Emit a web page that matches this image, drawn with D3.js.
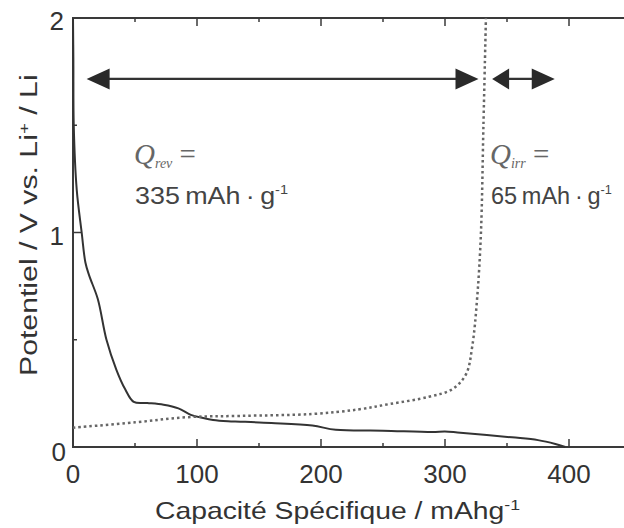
<!DOCTYPE html>
<html>
<head>
<meta charset="utf-8">
<script src="https://cdn.jsdelivr.net/npm/d3@7"></script>
<style>
  html, body { margin: 0; padding: 0; background: #fff; }
  svg { display: block; }
  text { font-family: "Liberation Sans", Arial, sans-serif; fill: #333; }
</style>
</head>
<body>
<script>
// ---- data ----
const dischargeCap = [0, 0.3, 0.6, 3, 7, 10, 13, 20, 27, 35, 42, 49, 60, 73, 85, 95, 105, 113, 125, 135, 160, 193, 212, 250, 290, 300, 310, 354, 375, 389, 397];
const dischargeV   = [2.0, 1.8, 1.5, 1.2, 1.0, 0.86, 0.80, 0.69, 0.50, 0.36, 0.27, 0.21, 0.205, 0.197, 0.18, 0.15, 0.135, 0.126, 0.12, 0.118, 0.112, 0.10, 0.08, 0.076, 0.07, 0.072, 0.068, 0.045, 0.032, 0.014, 0.0];
const chargeCap = [0, 50, 92, 135, 193, 230, 255, 287, 306, 317, 322, 326, 329, 331, 333];
const chargeV   = [0.09, 0.115, 0.139, 0.145, 0.154, 0.175, 0.20, 0.234, 0.27, 0.34, 0.47, 0.70, 1.0, 1.5, 2.0];
const xTicks = [0, 100, 200, 300, 400];
const xMinorTicks = [50, 150, 250, 350, 450];
const yTicks = [0, 1, 2];
const yMinorTicks = [0.5, 1.5];
const arrowFrom = [11, 338];
const arrowTo = [327, 388.5];
const arrowV = 1.716;
const qLabels = ["rev", "irr"];
const qValues = ["335", "65"];

// ---- layout ----
const W = 624, H = 528;
const svg = d3.select("body").append("svg").attr("width", W).attr("height", H);
const x = d3.scaleLinear().domain([0, 450]).range([73, 631]);
const y = d3.scaleLinear().domain([0, 2]).range([447, 18]);
const axisColor = "#3a3a3a";

// frame
svg.append("rect").attr("x", x(0)).attr("y", y(2)).attr("width", x(450) - x(0)).attr("height", y(0) - y(2))
  .attr("fill", "none").attr("stroke", axisColor).attr("stroke-width", 2);

// ticks
const tickG = svg.append("g").attr("stroke", axisColor).attr("stroke-width", 1.5);
xTicks.forEach(t => {
  tickG.append("line").attr("x1", x(t)).attr("x2", x(t)).attr("y1", y(0)).attr("y2", y(0) - 8);
  tickG.append("line").attr("x1", x(t)).attr("x2", x(t)).attr("y1", y(2)).attr("y2", y(2) + 8);
});
xMinorTicks.forEach(t => {
  tickG.append("line").attr("x1", x(t)).attr("x2", x(t)).attr("y1", y(0)).attr("y2", y(0) - 4);
  tickG.append("line").attr("x1", x(t)).attr("x2", x(t)).attr("y1", y(2)).attr("y2", y(2) + 4);
});
yTicks.forEach(t => {
  tickG.append("line").attr("x1", x(0)).attr("x2", x(0) + 8).attr("y1", y(t)).attr("y2", y(t));
});
yMinorTicks.forEach(t => {
  tickG.append("line").attr("x1", x(0)).attr("x2", x(0) + 4).attr("y1", y(t)).attr("y2", y(t));
});

// tick labels
svg.append("g").selectAll("text").data(xTicks).join("text")
  .attr("x", d => x(d)).attr("y", 483).attr("text-anchor", "middle")
  .attr("font-size", 26).text(d => d);
svg.append("g").selectAll("text").data(yTicks).join("text")
  .attr("x", d => d === 0 ? 66 : 64).attr("y", d => y(d) + (d === 0 ? 14 : 12)).attr("text-anchor", "end")
  .attr("font-size", 26).text(d => d);

// axis titles
const xt = svg.append("text").attr("transform", "translate(155,519) scale(1.18,1)").attr("font-size", 24);
xt.append("tspan").text("Capacité Spécifique / mAhg");
xt.append("tspan").attr("dy", -9).attr("font-size", 15).text("-1");

const yt = svg.append("text").attr("transform", "translate(37,376) rotate(-90) scale(1.26,1)").attr("font-size", 24);
yt.append("tspan").text("Potentiel / V vs. Li");
yt.append("tspan").attr("dy", -8).attr("font-size", 15).text("+");
yt.append("tspan").attr("dy", 8).text(" / Li");

// curves
const curveLine = d3.line().x(d => x(d[0])).y(d => y(d[1])).curve(d3.curveCatmullRom.alpha(0.5));
svg.append("path").datum(dischargeCap.map((c, i) => [c, dischargeV[i]]))
  .attr("d", curveLine).attr("fill", "none")
  .attr("stroke", "#333").attr("stroke-width", 2);
svg.append("path").datum(chargeCap.map((c, i) => [c, chargeV[i]]))
  .attr("d", curveLine).attr("fill", "none")
  .attr("stroke", "#666").attr("stroke-width", 2.5).attr("stroke-dasharray", "2.5,3");

// arrows
const ag = svg.append("g");
arrowFrom.forEach((f, i) => {
  const x1 = x(f), x2 = x(arrowTo[i]), yy = y(arrowV);
  const hl1 = i === 0 ? 23 : 17, hl2 = 23, hw = 10.5;
  ag.append("line").attr("x1", x1 + 5).attr("x2", x2 - 5).attr("y1", yy).attr("y2", yy)
    .attr("stroke", "#333").attr("stroke-width", 2.4);
  ag.append("path").attr("d", `M${x1},${yy} L${x1 + hl1},${yy - hw} L${x1 + hl1},${yy + hw} Z`).attr("fill", "#2a2a2a");
  ag.append("path").attr("d", `M${x2},${yy} L${x2 - hl2},${yy - hw} L${x2 - hl2},${yy + hw} Z`).attr("fill", "#2a2a2a");
});

// Q annotations
const qx = [134, 490];
const qScale = [1.12, 0.98];
qLabels.forEach((lab, i) => {
  const t = svg.append("text").attr("x", qx[i]).attr("y", 164)
    .style("font-family", "'Liberation Serif', 'Times New Roman', serif").style("fill", "#666").attr("font-size", 29);
  t.append("tspan").attr("font-style", "italic").text("Q");
  t.append("tspan").attr("font-style", "italic").attr("font-size", 14).attr("dy", 4).text(lab);
  t.append("tspan").attr("dy", -4).text(" =");
  const v = svg.append("text").attr("transform", `translate(${qx[i] + 1},204) scale(${qScale[i]},1)`).attr("font-size", 24).style("fill", "#444");
  v.append("tspan").text(qValues[i] + "\u2009mAh\u2009·\u2009g");
  v.append("tspan").attr("dy", -10).attr("font-size", 13).text("-1");
});
</script>
</body>
</html>
